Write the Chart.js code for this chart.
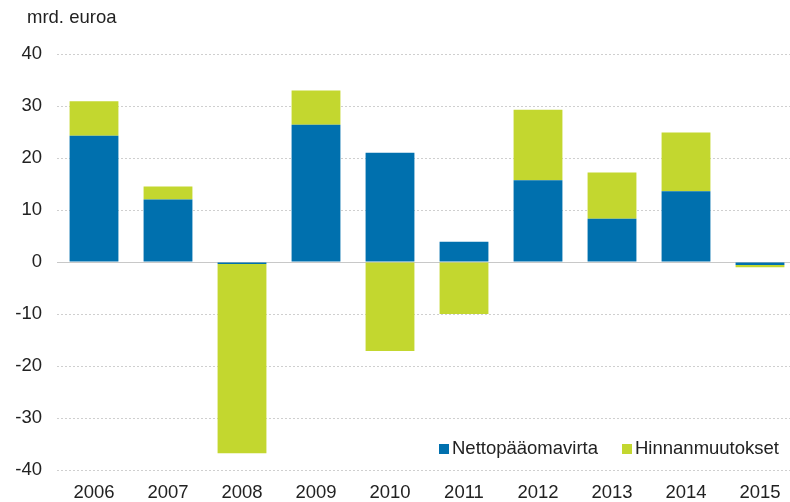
<!DOCTYPE html>
<html>
<head>
<meta charset="utf-8">
<script src="https://cdn.jsdelivr.net/npm/chart.js@4.4.1/dist/chart.umd.min.js"></script>
<style>
    html, body { margin: 0; padding: 0; background: #fff; overflow: hidden; }
    #wrap { position: relative; width: 797px; height: 502px; }
</style>
</head>
<body>
<div id="wrap"><canvas id="chart"></canvas></div>
<script>
/* ================= DATA ================= */
const years = ['2006', '2007', '2008', '2009', '2010', '2011', '2012', '2013', '2014', '2015'];
const nettopaaomavirta = [24.3, 12.0, -0.4, 26.4, 21.0, 3.9, 15.7, 8.3, 13.6, -0.6];
const hinnanmuutokset = [6.6, 2.5, -36.4, 6.6, -17.1, -10.0, 13.6, 8.9, 11.3, -0.4];
const seriesNames = ['Nettopääomavirta', 'Hinnanmuutokset'];
const unitLabel = 'mrd. euroa';

const BLUE = '#0070ae';
const GREEN = '#c3d72f';
const FONT = 'Liberation Sans, Arial, sans-serif';
const FONT_SIZE = 18.5;

/* ================= TITLE, ZERO LINE, LEGEND ================= */
const extras = {
    id: 'extras',
    beforeDatasetsDraw(chart) {
        const { ctx, chartArea, scales } = chart;
        const y0 = Math.round(scales.y.getPixelForValue(0)) + 0.5;
        ctx.save();
        ctx.strokeStyle = '#c8c8c8';
        ctx.lineWidth = 1;
        ctx.beginPath();
        ctx.moveTo(chartArea.left, y0);
        ctx.lineTo(chartArea.right, y0);
        ctx.stroke();
        ctx.restore();
    },
    afterDraw(chart) {
        const { ctx } = chart;
        ctx.save();
        ctx.font = FONT_SIZE + 'px ' + FONT;
        ctx.fillStyle = '#222';
        ctx.textBaseline = 'middle';
        ctx.textAlign = 'left';
        ctx.fillText(unitLabel, 27, 18);

        // legend, bottom right inside the plot
        const ly = 449;
        const items = [
            { x: 439, color: BLUE, text: seriesNames[0] },
            { x: 622, color: GREEN, text: seriesNames[1] }
        ];
        items.forEach(it => {
            ctx.fillStyle = it.color;
            ctx.fillRect(it.x, ly - 5, 10, 10);
            ctx.fillStyle = '#222';
            ctx.fillText(it.text, it.x + 13, ly);
        });
        ctx.restore();
    }
};

/* ================= CHART ================= */
new Chart(document.getElementById('chart'), {
    type: 'bar',
    data: {
        labels: years,
        datasets: [
            { label: seriesNames[0], data: nettopaaomavirta, backgroundColor: BLUE },
            { label: seriesNames[1], data: hinnanmuutokset, backgroundColor: GREEN }
        ]
    },
    options: {
        responsive: true,
        maintainAspectRatio: false,
        animation: false,
        events: [],
        categoryPercentage: 1,
        barPercentage: 0.66,
        layout: { padding: { top: 54, left: 0, right: 0, bottom: 0 } },
        plugins: {
            legend: { display: false },
            tooltip: { enabled: false },
            title: { display: false }
        },
        scales: {
            x: {
                stacked: true,
                grid: { display: false, drawTicks: false },
                border: { display: false },
                ticks: { color: '#222', font: { family: FONT, size: FONT_SIZE }, padding: 12, maxRotation: 0 },
                afterFit: s => { s.height = 32; }
            },
            y: {
                stacked: true,
                min: -40,
                max: 40,
                grid: {
                    color: ctx => ctx.tick && ctx.tick.value === 0 ? 'rgba(0,0,0,0)' : '#cfcfcf',
                    drawTicks: false
                },
                border: { display: false, dash: [2, 2] },
                ticks: { stepSize: 10, color: '#222', font: { family: FONT, size: FONT_SIZE }, padding: 15 },
                afterFit: s => { s.width = 57; }
            }
        }
    },
    plugins: [extras]
});
</script>
</body>
</html>
